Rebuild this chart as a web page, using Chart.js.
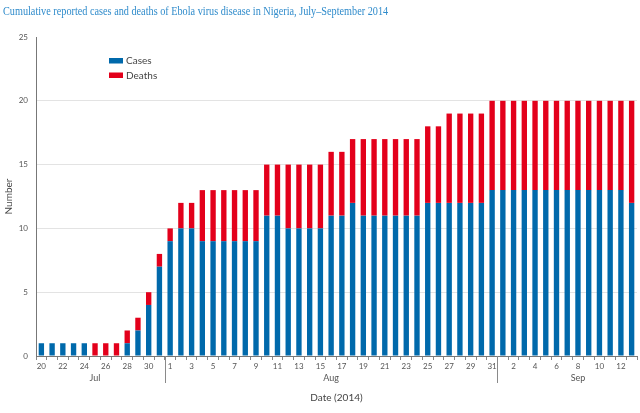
<!DOCTYPE html>
<html>
<head>
<meta charset="utf-8">
<script src="https://cdn.jsdelivr.net/npm/chart.js@4.4.1/dist/chart.umd.min.js"></script>
<style>
  html, body { margin: 0; padding: 0; background: #fff; }
  #wrap { width: 640px; height: 413px; position: relative; }
</style>
</head>
<body>
<div id="wrap"><canvas id="c" width="640" height="413"></canvas></div>
<script>
// ---- data ----
const dates = [
  "Jul 20","Jul 21","Jul 22","Jul 23","Jul 24","Jul 25","Jul 26","Jul 27","Jul 28","Jul 29","Jul 30","Jul 31",
  "Aug 1","Aug 2","Aug 3","Aug 4","Aug 5","Aug 6","Aug 7","Aug 8","Aug 9","Aug 10","Aug 11","Aug 12","Aug 13",
  "Aug 14","Aug 15","Aug 16","Aug 17","Aug 18","Aug 19","Aug 20","Aug 21","Aug 22","Aug 23","Aug 24","Aug 25",
  "Aug 26","Aug 27","Aug 28","Aug 29","Aug 30","Aug 31",
  "Sep 1","Sep 2","Sep 3","Sep 4","Sep 5","Sep 6","Sep 7","Sep 8","Sep 9","Sep 10","Sep 11","Sep 12","Sep 13"
];
const cases = [
  1,1,1,1,1,0,0,0,1,2,4,7,
  9,10,10,9,9,9,9,9,9,11,11,10,10,
  10,10,11,11,12,11,11,11,11,11,11,12,
  12,12,12,12,12,13,
  13,13,13,13,13,13,13,13,13,13,13,13,12
];
const deaths = [
  0,0,0,0,0,1,1,1,1,1,1,1,
  1,2,2,4,4,4,4,4,4,4,4,5,5,
  5,5,5,5,5,6,6,6,6,6,6,6,
  6,7,7,7,7,7,
  7,7,7,7,7,7,7,7,7,7,7,7,8
];
const yTicks = [0, 5, 10, 15, 20, 25];
const months = ["Jul", "Aug", "Sep"];
const monthLabelDates = ["Jul 25", "Aug 16", "Sep 8"];

const titleText = "Cumulative reported cases and deaths of Ebola virus disease in Nigeria, July\u2013September 2014";
const BLUE = "#0069ab";
const RED = "#e3001b";
const SANS = "Lato, 'Open Sans', sans-serif";

function dayOf(s) { return s.split(" ")[1]; }
function monthOf(s) { return s.split(" ")[0]; }

const decorPlugin = {
  id: "decor",
  afterDraw(chart) {
    const ctx = chart.ctx;
    const x = chart.scales.x;
    const area = chart.chartArea;
    ctx.save();
    // title (slightly condensed like the original typeface)
    ctx.save();
    ctx.font = "11.5px 'Liberation Serif', serif";
    ctx.fillStyle = "#2f8bcb";
    ctx.textBaseline = "alphabetic";
    ctx.textAlign = "left";
    ctx.translate(3, 15);
    ctx.scale(0.89, 1);
    ctx.fillText(titleText, 0, 0);
    ctx.restore();

    // month dividers
    ctx.strokeStyle = "#8a8a8a";
    ctx.lineWidth = 1;
    for (let i = 1; i < dates.length; i++) {
      if (monthOf(dates[i]) !== monthOf(dates[i - 1])) {
        const px = Math.round((x.getPixelForValue(i - 1) + x.getPixelForValue(i)) / 2) + 0.5;
        ctx.beginPath();
        ctx.moveTo(px, area.bottom);
        ctx.lineTo(px, area.bottom + 27);
        ctx.stroke();
      }
    }
    // month labels
    ctx.font = "9px " + SANS;
    ctx.fillStyle = "#555";
    ctx.textAlign = "center";
    ctx.textBaseline = "middle";
    months.forEach((m, k) => {
      const idx = dates.indexOf(monthLabelDates[k]);
      const px = x.getPixelForValue(idx);
      ctx.fillText(m, px, area.bottom + 22);
    });

    // legend
    const lx = 109, ly = 58;
    const items = [["Cases", BLUE], ["Deaths", RED]];
    ctx.textAlign = "left";
    ctx.textBaseline = "middle";
    ctx.font = "10px " + SANS;
    items.forEach((it, k) => {
      const yy = ly + k * 14.5;
      ctx.fillStyle = it[1];
      ctx.fillRect(lx, yy, 14, 5.5);
      ctx.fillStyle = "#444";
      ctx.fillText(it[0], lx + 17, yy + 3);
    });
    ctx.restore();
  }
};

new Chart(document.getElementById("c"), {
  type: "bar",
  data: {
    labels: dates,
    datasets: [
      { label: "Cases", data: cases, backgroundColor: BLUE, barPercentage: 0.5, categoryPercentage: 1.0 },
      { label: "Deaths", data: deaths, backgroundColor: RED, barPercentage: 0.5, categoryPercentage: 1.0 }
    ]
  },
  options: {
    responsive: false,
    animation: false,
    devicePixelRatio: 1,
    layout: { padding: { top: 37, right: 3, left: 0, bottom: 0 } },
    plugins: {
      legend: { display: false },
      title: { display: false },
      tooltip: { enabled: false }
    },
    scales: {
      x: {
        stacked: true,
        offset: true,
        afterFit(s) { s.height = 57; },
        grid: { display: true, drawOnChartArea: false, offset: true, tickLength: 4, color: "#888" },
        border: { display: true, color: "#777", width: 1 },
        ticks: {
          autoSkip: false, maxRotation: 0, minRotation: 0, padding: 2,
          color: "#555", font: { size: 8, family: SANS },
          callback(v, i) { return i % 2 === 0 ? dayOf(dates[i]) : ""; }
        },
        title: { display: true, text: "Date (2014)", color: "#444", font: { size: 10, family: SANS }, padding: { top: 0, bottom: 9 } }
      },
      y: {
        stacked: true,
        min: 0, max: 25,
        afterFit(s) { s.width = 36; },
        afterBuildTicks(s) { s.ticks = yTicks.map(v => ({ value: v })); },
        grid: {
          drawTicks: false,
          color(c) { return (c.tick && (c.tick.value === 0 || c.tick.value === 25)) ? "rgba(0,0,0,0)" : "#e3e3e3"; }
        },
        border: { display: true, color: "#777", width: 1 },
        ticks: { padding: 8, color: "#555", font: { size: 8, family: SANS } },
        title: { display: true, text: "Number", color: "#444", font: { size: 10, family: SANS }, padding: { top: 3, bottom: 0 } }
      }
    }
  },
  plugins: [decorPlugin]
});
</script>
</body>
</html>
